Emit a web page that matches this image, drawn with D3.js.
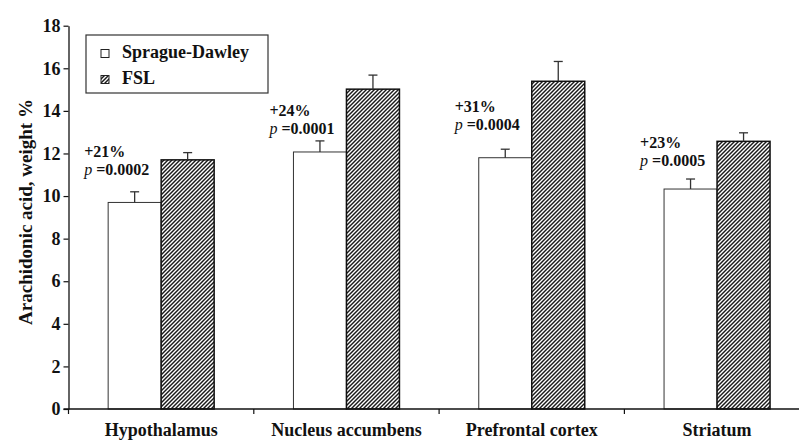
<!DOCTYPE html>
<html>
<head>
<meta charset="utf-8">
<script src="https://cdn.jsdelivr.net/npm/d3@7/dist/d3.min.js"></script>
<style>
  html, body { margin: 0; padding: 0; background: #fff; }
  svg { display: block; }
  text { font-family: "Liberation Serif", "Times New Roman", serif; font-weight: bold; fill: #111; }
</style>
</head>
<body>
<svg id="chart" width="799" height="441"></svg>
<script>
// ---- data ----
const categories = ["Hypothalamus", "Nucleus accumbens", "Prefrontal cortex", "Striatum"];
const seriesNames = ["Sprague-Dawley", "FSL"];
const sdValues = [9.7, 12.07, 11.8, 10.33];
const sdErrors = [0.5, 0.52, 0.4, 0.47];
const fslValues = [11.7, 15.02, 15.39, 12.57];
const fslErrors = [0.34, 0.66, 0.93, 0.4];
const pctLabels = ["+21%", "+24%", "+31%", "+23%"];
const pLabels = ["=0.0002", "=0.0001", "=0.0004", "=0.0005"];
const annotAt = [11.84, 13.74, 13.93, 12.28];   // annotation baseline, in data units
const yTicks = [0, 2, 4, 6, 8, 10, 12, 14, 16, 18];
const yTitle = "Arachidonic acid, weight %";

(function () {
// ---- layout ----
const svg = d3.select("#chart");
const mLeft = 68.5, mTop = 25.7, mBottom = 409;
const bandW = 185.3;

const x = d3.scaleBand().domain(categories).range([mLeft, mLeft + bandW * categories.length]).padding(0);
const y = d3.scaleLinear().domain([0, 18]).range([mBottom, mTop]);
const barW = 53;

// hatch pattern
const defs = svg.append("defs");
const pat = defs.append("pattern").attr("id", "hatch").attr("patternUnits", "userSpaceOnUse")
  .attr("width", 4).attr("height", 4);
pat.append("rect").attr("width", 4).attr("height", 4).attr("fill", "#fff");
pat.append("path").attr("d", "M-1,1 L1,-1 M0,4 L4,0 M3,5 L5,3")
  .attr("stroke", "#1a1a1a").attr("stroke-width", 1.45);

// bars
const g = svg.append("g");
categories.forEach((c, i) => {
  const cx = x(c) + x.bandwidth() / 2;
  g.append("rect").attr("x", cx - barW).attr("y", y(sdValues[i]))
    .attr("width", barW).attr("height", y(0) - y(sdValues[i]))
    .attr("fill", "#fff").attr("stroke", "#333").attr("stroke-width", 1);
  g.append("rect").attr("x", cx).attr("y", y(fslValues[i]))
    .attr("width", barW).attr("height", y(0) - y(fslValues[i]))
    .attr("fill", "url(#hatch)").attr("stroke", "#111").attr("stroke-width", 1.5);
  [[cx - barW / 2, sdValues[i], sdErrors[i]], [cx + barW / 2, fslValues[i], fslErrors[i]]].forEach(([ex, v, e]) => {
    g.append("line").attr("x1", ex).attr("x2", ex).attr("y1", y(v)).attr("y2", y(v + e))
      .attr("stroke", "#333").attr("stroke-width", 1.3);
    g.append("line").attr("x1", ex - 4.5).attr("x2", ex + 4.5).attr("y1", y(v + e)).attr("y2", y(v + e))
      .attr("stroke", "#333").attr("stroke-width", 1.3);
  });
  const ax = cx - barW - 24;
  g.append("text").attr("x", ax).attr("y", y(annotAt[i])).attr("font-size", 16).text(pctLabels[i]);
  const t = g.append("text").attr("x", ax).attr("y", y(annotAt[i]) + 18).attr("font-size", 16);
  t.append("tspan").attr("font-style", "italic").attr("font-weight", "normal").text("p");
  t.append("tspan").text(" " + pLabels[i]);
});

// y axis
const yAxis = svg.append("g").attr("transform", `translate(${mLeft},0)`)
  .call(d3.axisLeft(y).tickValues(yTicks).tickSize(5).tickSizeOuter(0).tickPadding(3));
yAxis.select(".domain").attr("stroke", "#111").attr("stroke-width", 1.3);
yAxis.selectAll(".tick line").attr("stroke", "#111").attr("stroke-width", 1.2);
yAxis.selectAll(".tick text").attr("font-size", 18)
  .style("font-family", '"Liberation Serif", serif').style("font-weight", "bold").attr("fill", "#111");

// x axis line
svg.append("line").attr("x1", mLeft - 5).attr("x2", 799).attr("y1", y(0)).attr("y2", y(0))
  .attr("stroke", "#111").attr("stroke-width", 1.3);
categories.forEach(c => {
  svg.append("line").attr("x1", x(c)).attr("x2", x(c)).attr("y1", y(0)).attr("y2", y(0) + 5)
    .attr("stroke", "#111").attr("stroke-width", 1.2);
});
const xAxis = svg.append("g").attr("transform", `translate(0,${y(0)})`)
  .call(d3.axisBottom(x).tickSize(0).tickPadding(14));
xAxis.select(".domain").remove();
xAxis.selectAll(".tick text").attr("font-size", 18)
  .style("font-family", '"Liberation Serif", serif').style("font-weight", "bold").attr("fill", "#111");

// y title
svg.append("text").attr("transform", `translate(32,212) rotate(-90)`)
  .attr("text-anchor", "middle").attr("font-size", 19).text(yTitle);

// legend
const lg = svg.append("g");
lg.append("rect").attr("x", 86).attr("y", 35).attr("width", 182).attr("height", 58)
  .attr("fill", "#fff").attr("stroke", "#333").attr("stroke-width", 1.2);
seriesNames.forEach((s, i) => {
  const yy = 49.5 + i * 26;
  lg.append("rect").attr("x", 101).attr("y", yy).attr("width", 8).attr("height", 8)
    .attr("fill", i === 0 ? "#fff" : "url(#hatch)").attr("stroke", "#222").attr("stroke-width", 1);
  lg.append("text").attr("x", 122).attr("y", yy + 8.3).attr("font-size", 18).text(s);
});
})();
</script>
</body>
</html>
